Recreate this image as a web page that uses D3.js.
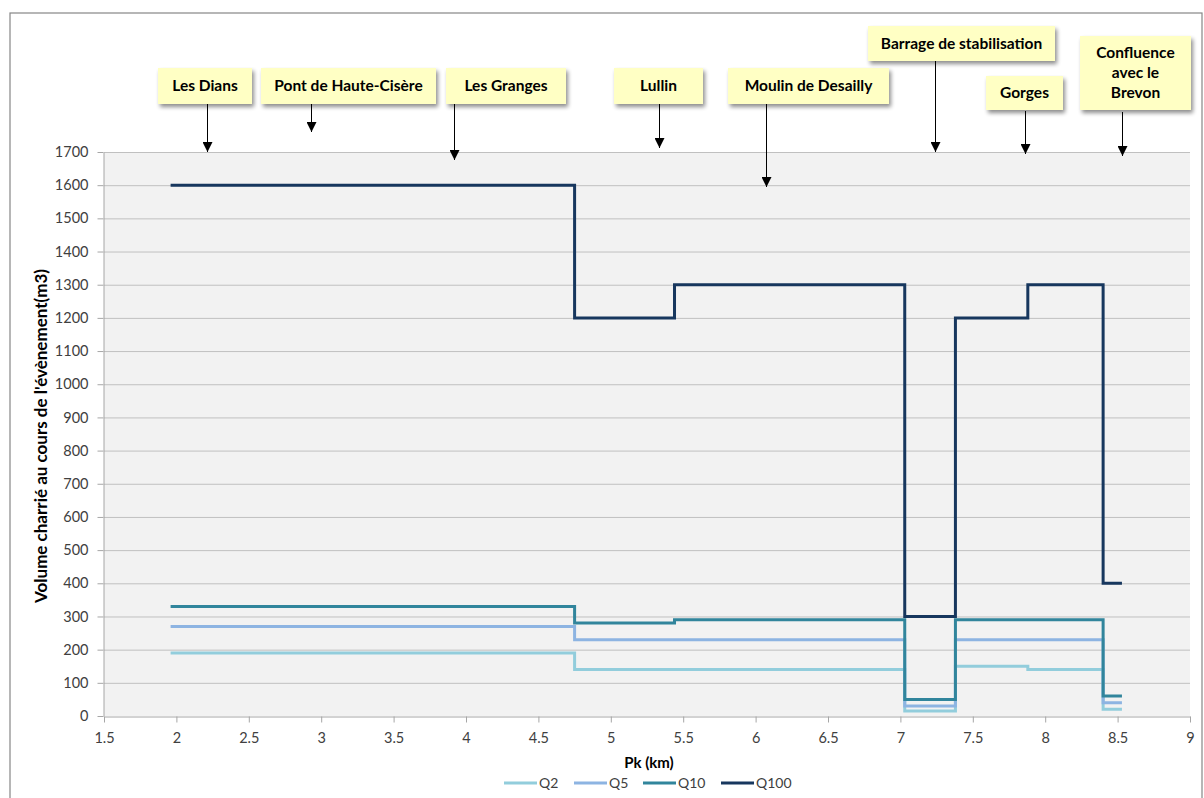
<!DOCTYPE html>
<html><head><meta charset="utf-8">
<script src="https://cdn.jsdelivr.net/npm/d3@7"></script>
<style>
body{margin:0;background:#fff;}
svg text{font-family:Lato,"Open Sans",sans-serif;}
</style></head>
<body><svg id="c" width="1204" height="798"></svg>
<script>
// ---- data ----
const seriesNames = ["Q2","Q5","Q10","Q100"];
// breakpoints (Pk km) and step values (value holds until next breakpoint)
const q2Pk   = [1.96, 4.75, 7.03, 7.38, 7.88, 8.40, 8.53];
const q2Val  = [190, 140, 15, 150, 140, 20, 20];
const q5Pk   = [1.96, 4.75, 7.03, 7.38, 8.40, 8.53];
const q5Val  = [270, 230, 30, 230, 40, 40];
const q10Pk  = [1.96, 4.75, 5.44, 7.03, 7.38, 8.40, 8.53];
const q10Val = [330, 280, 290, 50, 290, 60, 60];
const q100Pk = [1.96, 4.75, 5.44, 7.03, 7.38, 7.88, 8.40, 8.53];
const q100Val= [1600, 1200, 1300, 300, 1200, 1300, 400, 400];
const xTicks = [1.5,2,2.5,3,3.5,4,4.5,5,5.5,6,6.5,7,7.5,8,8.5,9];
const yTicks = [0,100,200,300,400,500,600,700,800,900,1000,1100,1200,1300,1400,1500,1600,1700];
const annotLabels = [["Les Dians"],["Pont de Haute-Cisère"],["Les Granges"],["Lullin"],["Moulin de Desailly"],["Barrage de stabilisation"],["Gorges"],["Confluence","avec le","Brevon"]];
const annotPk = [2.21, 2.93, 3.92, 5.33, 6.07, 7.24, 7.86, 8.53];

// ---- layout ----
const svg = d3.select("#c");
const L=104, R=1190, T=152, B=716;
const x = d3.scaleLinear().domain([1.5,9]).range([L,R]);
const y = d3.scaleLinear().domain([0,1700]).range([B,T]);
const colors = ["#92cddc","#8db4e2","#31859c","#17375e"];

// outer border
svg.append("rect").attr("x",10).attr("y",13).attr("width",1192).attr("height",790)
  .attr("fill","#fff").attr("stroke","#868686").attr("stroke-width",1.2);

// plot background
svg.append("rect").attr("x",L).attr("y",T).attr("width",R-L).attr("height",B-T).attr("fill","#f2f2f2");

// gridlines
svg.append("g").selectAll("line").data(yTicks.slice(1)).join("line")
  .attr("x1",L).attr("x2",R).attr("y1",d=>y(d)+0.5).attr("y2",d=>y(d)+0.5)
  .attr("stroke","#c0c0c0").attr("stroke-width",1);

// axes
const xAxis = svg.append("g").attr("transform",`translate(0,${B+0.5})`)
  .call(d3.axisBottom(x).tickValues(xTicks).tickFormat(d=>String(d)).tickSize(6).tickSizeOuter(0));
const yAxis = svg.append("g").attr("transform",`translate(${L-0.5},0)`)
  .call(d3.axisLeft(y).tickValues(yTicks).tickFormat(d=>String(d)).tickSize(6).tickSizeOuter(0));
[xAxis,yAxis].forEach(a=>{
  a.select(".domain").attr("stroke","#a6a6a6");
  a.selectAll(".tick line").attr("stroke","#a6a6a6");
  a.selectAll("text").attr("fill","#404040").style("font-size","14.5px").style("font-family","Lato,'Open Sans',sans-serif");
});
xAxis.selectAll("text").attr("dy","1.2em");
yAxis.selectAll("text").attr("x",-15);

// series lines
const series = [[q2Pk,q2Val],[q5Pk,q5Val],[q10Pk,q10Val],[q100Pk,q100Val]];
const line = d3.line().x(d=>x(d[0])).y(d=>y(d[1])).curve(d3.curveStepAfter);
series.forEach((s,i)=>{
  const pts = s[0].map((p,j)=>[p,s[1][j]]);
  svg.append("path").datum(pts).attr("d",line).attr("fill","none")
    .attr("stroke",colors[i]).attr("stroke-width",3).attr("stroke-linejoin","miter");
});

// axis titles
svg.append("text").attr("x",(L+R)/2+2).attr("y",768).attr("text-anchor","middle")
  .style("font-size","15px").style("font-weight","bold").attr("fill","#000").text("Pk (km)");
svg.append("text").attr("transform",`translate(47,${436}) rotate(-90)`).attr("text-anchor","middle")
  .style("font-size","17px").style("font-weight","bold").attr("fill","#000")
  .text("Volume charrié au cours de l'évènement(m3)");

// legend
const legX = [504,574,643,721];
seriesNames.forEach((n,i)=>{
  svg.append("line").attr("x1",legX[i]).attr("x2",legX[i]+33).attr("y1",783).attr("y2",783)
    .attr("stroke",colors[i]).attr("stroke-width",3);
  svg.append("text").attr("x",legX[i]+35).attr("y",788).style("font-size","14px").attr("fill","#404040").text(n);
});

// annotations (callout boxes with arrows)
const boxes = [
  {x0:158,x1:252,y0:68,y1:104,tipY:152,baseY:104},
  {x0:261,x1:436,y0:68,y1:104,tipY:132,baseY:100},
  {x0:446,x1:566,y0:68,y1:104,tipY:160,baseY:104},
  {x0:614,x1:703,y0:68,y1:104,tipY:148,baseY:104},
  {x0:728,x1:889,y0:68,y1:104,tipY:187,baseY:104},
  {x0:868,x1:1055,y0:26,y1:61,tipY:152,baseY:61},
  {x0:986,x1:1063,y0:76,y1:110,tipY:154,baseY:111},
  {x0:1080,x1:1191,y0:36,y1:110,tipY:156,baseY:112}
];
const defs = svg.append("defs");
const f = defs.append("filter").attr("id","sh").attr("x","-10%").attr("y","-10%").attr("width","130%").attr("height","140%");
f.append("feGaussianBlur").attr("in","SourceAlpha").attr("stdDeviation",2);
f.append("feOffset").attr("dx",2).attr("dy",3).attr("result","o");
f.append("feComponentTransfer").append("feFuncA").attr("type","linear").attr("slope",0.45);
const m = f.append("feMerge"); m.append("feMergeNode"); m.append("feMergeNode").attr("in","SourceGraphic");
defs.append("marker").attr("id","ah").attr("viewBox","0 0 10 10").attr("refX",10).attr("refY",5)
  .attr("markerWidth",10).attr("markerHeight",10).attr("markerUnits","userSpaceOnUse").attr("orient","auto")
  .append("path").attr("d","M0,0 L10,5 L0,10 Z").attr("fill","#000");

annotLabels.forEach((lab,i)=>{
  const b = boxes[i];
  const ax = Math.round(x(annotPk[i]))+0.5;
  svg.append("line").attr("x1",ax).attr("x2",ax).attr("y1",b.baseY).attr("y2",b.tipY)
    .attr("stroke","#000").attr("stroke-width",1).attr("marker-end","url(#ah)");
  svg.append("rect").attr("x",b.x0).attr("y",b.y0).attr("width",b.x1-b.x0).attr("height",b.y1-b.y0)
    .attr("fill","#ffffc4").attr("filter","url(#sh)");
  const cx=(b.x0+b.x1)/2, cy=(b.y0+b.y1)/2;
  const lh=20;
  lab.forEach((t,k)=>{
    svg.append("text").attr("x",cx).attr("y",cy+(k-(lab.length-1)/2)*lh+5)
      .attr("text-anchor","middle").style("font-size","15.5px").style("font-weight","bold")
      .attr("fill","#000").text(t);
  });
});
</script></body></html>
